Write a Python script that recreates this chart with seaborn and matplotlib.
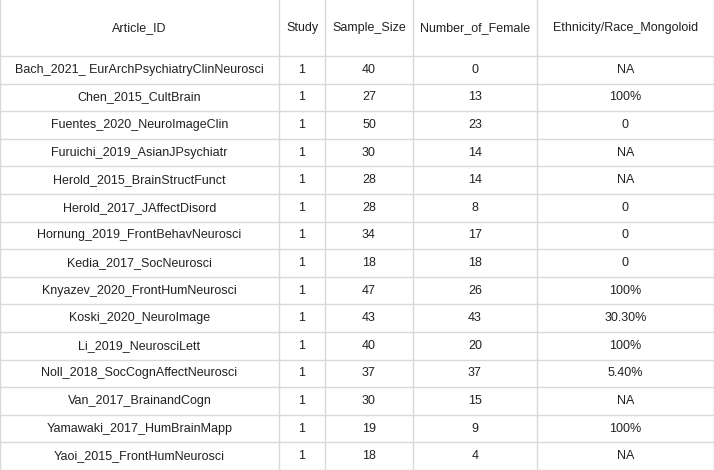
import matplotlib.pyplot as plt
import seaborn as sns

columns = ["Article_ID", "Study", "Sample_Size", "Number_of_Female", "Ethnicity/Race_Mongoloid"]
article_ids = ["Bach_2021_ EurArchPsychiatryClinNeurosci", "Chen_2015_CultBrain", "Fuentes_2020_NeuroImageClin",
               "Furuichi_2019_AsianJPsychiatr", "Herold_2015_BrainStructFunct", "Herold_2017_JAffectDisord",
               "Hornung_2019_FrontBehavNeurosci", "Kedia_2017_SocNeurosci", "Knyazev_2020_FrontHumNeurosci",
               "Koski_2020_NeuroImage", "Li_2019_NeurosciLett", "Noll_2018_SocCognAffectNeurosci",
               "Van_2017_BrainandCogn", "Yamawaki_2017_HumBrainMapp", "Yaoi_2015_FrontHumNeurosci"]
study = [1] * 15
sample_size = [40, 27, 50, 30, 28, 28, 34, 18, 47, 43, 40, 37, 30, 19, 18]
n_female = [0, 13, 23, 14, 14, 8, 17, 18, 26, 43, 20, 37, 15, 9, 4]
mongoloid = ["NA", "100%", "0", "NA", "NA", "0", "0", "0", "100%", "30.30%", "100%", "5.40%", "NA", "100%", "NA"]

sns.set_style("white")
plt.rcParams['font.family'] = ['Liberation Sans', 'DejaVu Sans']

W, H = 714, 470
fig = plt.figure(figsize=(W / 100, H / 100), dpi=100)
ax = fig.add_axes([0, 0, 1, 1])
ax.set_xlim(0, W)
ax.set_ylim(H, 0)
ax.axis("off")

col_edges = [0, 279, 325, 413, 537, 714]
header_h = 56
row_h = 27.6
grid = "#d9d9d9"

for x in col_edges:
    ax.plot([x, x], [0, H], color=grid, lw=1)
ax.plot([0, W], [header_h, header_h], color=grid, lw=1)
for i in range(len(article_ids)):
    y = header_h + row_h * (i + 1)
    ax.plot([0, W], [y, y], color=grid, lw=1)

centers = [(col_edges[i] + col_edges[i + 1]) / 2 for i in range(5)]
for c, name in zip(centers, columns):
    ax.text(c, header_h / 2, name, ha="center", va="center", fontsize=9, color="#222222")

rows = list(zip(article_ids, study, sample_size, n_female, mongoloid))
for i, row in enumerate(rows):
    y = header_h + row_h * (i + 0.5)
    for c, val in zip(centers, row):
        ax.text(c, y, str(val), ha="center", va="center", fontsize=9, color="#222222")

fig.savefig("out.png", dpi=100)
